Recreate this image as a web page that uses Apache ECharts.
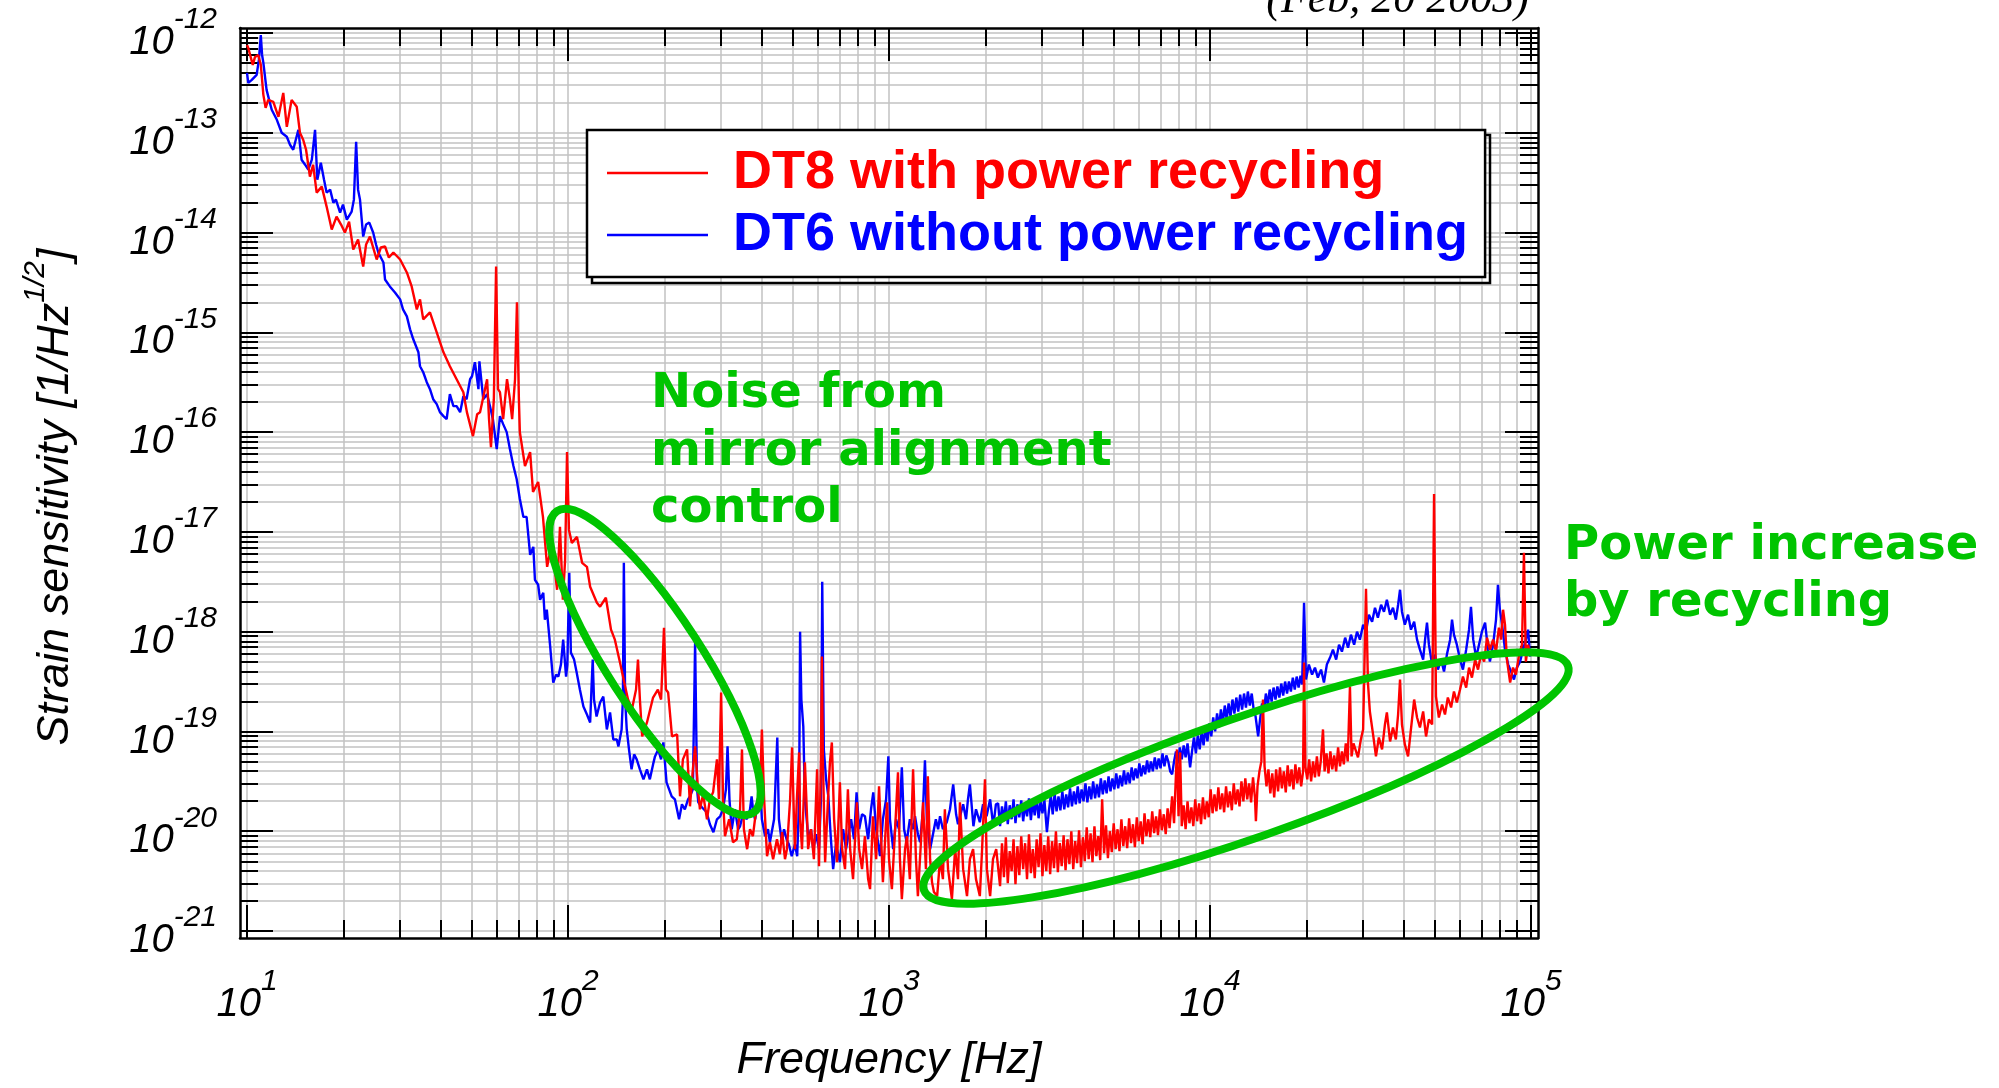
<!DOCTYPE html>
<html>
<head>
<meta charset="utf-8">
<script src="https://cdn.jsdelivr.net/npm/echarts@6/dist/echarts.min.js"></script>
<style>
  html, body { margin: 0; padding: 0; background: #fff; }
  #chart { width: 1999px; height: 1088px; }
</style>
</head>
<body>
<div id="chart"></div>
<script>
// Decades labelled on each axis (log10 of Hz and of 1/sqrt(Hz))
const freqDecades = [1, 2, 3, 4, 5];
const strainDecades = [-21, -20, -19, -18, -17, -16, -15, -14, -13, -12];

const seriesNames = ['DT8 with power recycling', 'DT6 without power recycling'];

// Spectra as [log10 f (Hz), log10 h (1/sqrt(Hz))]
// DT8 with power recycling
const dt8Below100Hz = [
  [1.000,-12.12],[1.004,-12.15],[1.018,-12.32],[1.025,-12.24],[1.035,-12.22],[1.043,-12.32],[1.051,-12.62],[1.058,-12.75],
  [1.066,-12.67],[1.082,-12.69],[1.098,-12.84],[1.113,-12.60],[1.124,-12.94],[1.139,-12.67],[1.155,-12.74],[1.165,-13.00],
  [1.175,-13.07],[1.184,-13.17],[1.196,-13.44],[1.206,-13.32],[1.217,-13.60],[1.233,-13.54],[1.248,-13.74],[1.264,-13.97],
  [1.279,-13.84],[1.293,-13.92],[1.305,-14.00],[1.318,-13.89],[1.331,-14.17],[1.346,-14.07],[1.362,-14.34],[1.371,-14.12],
  [1.383,-14.04],[1.404,-14.27],[1.417,-14.15],[1.430,-14.14],[1.442,-14.25],[1.456,-14.20],[1.477,-14.27],[1.498,-14.40],
  [1.513,-14.54],[1.529,-14.77],[1.539,-14.67],[1.549,-14.87],[1.570,-14.80],[1.591,-15.00],[1.612,-15.20],[1.632,-15.34],
  [1.653,-15.47],[1.674,-15.60],[1.685,-15.80],[1.704,-16.04],[1.717,-15.82],[1.726,-15.80],[1.738,-15.62],[1.748,-15.47],
  [1.754,-15.87],[1.760,-16.15],[1.769,-15.67],[1.776,-14.34],[1.782,-15.57],[1.788,-15.60],[1.798,-15.87],[1.810,-15.47],
  [1.819,-15.67],[1.826,-15.87],[1.835,-15.47],[1.841,-14.70],[1.847,-15.67],[1.850,-16.00],[1.866,-16.34],[1.882,-16.20],
  [1.891,-16.60],[1.907,-16.50],[1.922,-16.85],[1.935,-17.35],[1.950,-17.11],[1.966,-17.58],[1.975,-16.95],[1.984,-17.68],
  [1.991,-17.28],[1.997,-16.20]
];
const dt8To1kHz = [
  [2.003,-16.98],[2.012,-17.11],[2.028,-17.05],[2.044,-17.31],[2.059,-17.35],[2.069,-17.55],[2.090,-17.71],[2.100,-17.75],
  [2.118,-17.66],[2.134,-17.98],[2.146,-18.08],[2.162,-18.31],[2.178,-18.55],[2.187,-18.68],[2.199,-18.78],[2.212,-18.58],
  [2.218,-18.28],[2.224,-18.68],[2.231,-19.05],[2.246,-18.91],[2.265,-18.66],[2.280,-18.58],[2.290,-18.68],[2.299,-17.96],
  [2.305,-18.58],[2.312,-18.61],[2.324,-19.05],[2.340,-19.03],[2.349,-19.65],[2.358,-19.28],[2.371,-19.18],[2.380,-19.75],
  [2.389,-19.38],[2.396,-19.15],[2.405,-19.58],[2.411,-19.78],[2.421,-19.63],[2.433,-19.88],[2.442,-19.68],[2.452,-19.61],
  [2.464,-19.28],[2.470,-19.68],[2.477,-18.61],[2.483,-19.68],[2.489,-20.05],[2.502,-19.88],[2.514,-20.11],[2.526,-20.08],
  [2.536,-19.78],[2.542,-19.18],[2.548,-19.98],[2.558,-20.18],[2.567,-19.98],[2.576,-20.05],[2.589,-19.71],[2.598,-19.58],
  [2.604,-18.98],[2.611,-19.68],[2.620,-20.25],[2.629,-20.11],[2.639,-20.28],[2.651,-20.08],[2.660,-20.23],[2.667,-20.01],
  [2.676,-20.28],[2.682,-20.18],[2.692,-19.68],[2.698,-19.16],[2.704,-19.88],[2.707,-20.18],[2.713,-19.68],[2.720,-19.21],
  [2.723,-19.88],[2.729,-20.18],[2.738,-19.31],[2.745,-19.88],[2.748,-20.18],[2.757,-19.98],[2.766,-20.28],[2.776,-19.38],
  [2.782,-20.35],[2.788,-19.28],[2.791,-18.25],[2.794,-19.28],[2.801,-20.31],[2.810,-19.68],[2.816,-19.31],[2.822,-19.11],
  [2.829,-19.88],[2.838,-20.31],[2.847,-19.51],[2.854,-20.18],[2.863,-20.38],[2.872,-19.58],[2.879,-20.18],[2.888,-20.48],
  [2.900,-19.71],[2.907,-20.18],[2.916,-20.38],[2.925,-20.05],[2.935,-20.48],[2.941,-20.58],[2.950,-19.85],[2.960,-20.28],
  [2.969,-19.55],[2.981,-20.51],[2.994,-19.71]
];
const dt8Above1kHz = [
  [3.000,-20.28],[3.009,-20.58],[3.019,-19.98],[3.028,-19.41],[3.034,-20.28],[3.040,-20.68],[3.050,-20.18],[3.056,-20.05],
  [3.065,-20.48],[3.075,-19.38],[3.084,-20.28],[3.090,-20.65],[3.100,-20.08],[3.106,-19.71],[3.115,-20.38],[3.121,-19.45],
  [3.128,-20.28],[3.134,-20.51],[3.140,-20.61],[3.150,-20.65],[3.159,-20.28],[3.168,-20.48],[3.174,-19.78],[3.184,-20.38],
  [3.196,-20.68],[3.206,-20.18],[3.215,-20.48],[3.221,-19.71],[3.231,-20.38],[3.243,-20.65],[3.252,-20.28],[3.262,-20.18],
  [3.271,-20.48],[3.283,-20.65],[3.290,-20.18],[3.299,-19.48],[3.305,-20.38],[3.315,-20.65],[3.324,-20.28],[3.334,-20.18],
  [3.340,-20.20],[3.346,-20.55],[3.352,-20.12],[3.358,-20.46],[3.364,-20.06],[3.370,-20.52],[3.376,-20.20],[3.382,-20.40],
  [3.388,-20.08],[3.394,-20.53],[3.400,-20.15],[3.406,-20.44],[3.412,-20.05],[3.418,-20.38],[3.424,-20.12],[3.430,-20.48],
  [3.436,-20.03],[3.442,-20.42],[3.448,-20.18],[3.454,-20.47],[3.460,-20.08],[3.466,-20.36],[3.472,-20.02],[3.478,-20.45],
  [3.484,-20.14],[3.490,-20.40],[3.496,-20.05],[3.502,-20.43],[3.508,-20.10],[3.514,-20.37],[3.520,-20.00],[3.526,-20.41],
  [3.532,-20.12],[3.538,-20.35],[3.544,-20.04],[3.550,-20.39],[3.556,-20.08],[3.562,-20.33],[3.568,-20.00],[3.574,-20.38],
  [3.580,-20.10],[3.586,-20.32],[3.592,-19.99],[3.598,-20.36],[3.604,-20.06],[3.610,-20.30],[3.616,-19.96],[3.622,-20.28],
  [3.628,-20.02],[3.634,-20.31],[3.640,-19.95],[3.646,-20.25],[3.652,-20.05],[3.658,-20.29],[3.664,-19.68],[3.670,-20.22],
  [3.676,-19.94],[3.682,-20.27],[3.688,-20.00],[3.694,-20.21],[3.700,-19.92],[3.706,-20.18],[3.712,-19.98],[3.718,-20.20],
  [3.724,-19.88],[3.730,-20.15],[3.736,-19.95],[3.742,-20.17],[3.748,-19.87],[3.754,-20.12],[3.760,-19.93],[3.766,-20.16],
  [3.772,-19.86],[3.778,-20.10],[3.784,-19.90],[3.790,-20.13],[3.796,-19.82],[3.802,-20.05],[3.808,-19.88],[3.814,-20.06],
  [3.820,-19.80],[3.826,-20.02],[3.832,-19.85],[3.838,-20.04],[3.844,-19.78],[3.850,-19.99],[3.856,-19.83],[3.862,-20.03],
  [3.868,-19.77],[3.874,-19.97],[3.882,-19.65],[3.888,-19.92],[3.897,-19.18],[3.902,-19.85],[3.907,-19.21],[3.912,-19.95],
  [3.918,-19.74],[3.924,-19.98],[3.930,-19.70],[3.936,-19.92],[3.942,-19.76],[3.948,-19.95],[3.954,-19.68],[3.960,-19.90],
  [3.966,-19.72],[3.972,-19.93],[3.978,-19.66],[3.984,-19.88],[3.990,-19.70],[3.996,-19.86],[4.002,-19.58],[4.008,-19.82],
  [4.014,-19.63],[4.020,-19.80],[4.026,-19.56],[4.032,-19.78],[4.038,-19.62],[4.044,-19.81],[4.050,-19.55],[4.056,-19.76],
  [4.062,-19.60],[4.068,-19.79],[4.074,-19.52],[4.080,-19.73],[4.086,-19.58],[4.092,-19.75],[4.098,-19.50],[4.104,-19.70],
  [4.110,-19.47],[4.116,-19.68],[4.122,-19.52],[4.128,-19.71],[4.134,-19.46],[4.140,-19.66],[4.143,-19.90],[4.148,-19.55],
  [4.154,-19.40],[4.160,-19.30],[4.165,-18.68],[4.170,-19.35],[4.176,-19.55],[4.182,-19.38],[4.188,-19.62],[4.194,-19.42],
  [4.200,-19.66],[4.206,-19.38],[4.212,-19.60],[4.218,-19.36],[4.224,-19.57],[4.230,-19.40],[4.236,-19.61],[4.242,-19.34],
  [4.248,-19.55],[4.254,-19.38],[4.260,-19.58],[4.266,-19.33],[4.272,-19.52],[4.278,-19.36],[4.284,-19.55],[4.290,-19.40],
  [4.293,-18.31],[4.297,-19.35],[4.303,-19.48],[4.309,-19.28],[4.315,-19.50],[4.321,-19.30],[4.327,-19.46],[4.333,-19.25],
  [4.339,-19.45],[4.345,-19.30],[4.352,-18.98],[4.357,-19.40],[4.363,-19.22],[4.369,-19.42],[4.375,-19.20],[4.381,-19.38],
  [4.387,-19.24],[4.393,-19.40],[4.399,-19.16],[4.405,-19.35],[4.411,-19.20],[4.417,-19.33],[4.423,-19.12],[4.429,-19.30],
  [4.436,-18.55],[4.441,-19.25],[4.447,-19.12],[4.452,-19.13],[4.461,-19.26],[4.470,-19.08],[4.477,-18.98],
  [4.486,-17.57],[4.492,-18.51],[4.498,-18.80],[4.508,-19.03],[4.517,-19.25],[4.526,-19.06],[4.536,-19.18],[4.545,-18.93],
  [4.551,-18.81],[4.561,-19.10],[4.570,-18.96],[4.579,-19.08],[4.586,-18.83],[4.592,-18.48],[4.598,-18.93],[4.607,-19.13],
  [4.617,-19.25],[4.626,-18.98],[4.636,-18.68],[4.645,-18.86],[4.654,-18.96],[4.664,-18.80],[4.673,-19.05],[4.682,-18.88],
  [4.692,-18.93],[4.698,-16.62],[4.704,-18.65],[4.713,-18.86],[4.723,-18.73],[4.732,-18.83],[4.741,-18.66],[4.751,-18.76],
  [4.760,-18.60],[4.769,-18.71],[4.779,-18.58],[4.788,-18.45],[4.798,-18.56],[4.807,-18.36],[4.816,-18.46],[4.826,-18.28],
  [4.835,-18.38],[4.844,-18.23],[4.854,-18.30],[4.863,-18.06],[4.872,-18.18],[4.882,-18.08],[4.891,-18.20],[4.900,-17.96],
  [4.907,-18.08],[4.913,-17.78],[4.919,-17.93],[4.925,-18.28],[4.935,-18.51],[4.944,-18.36],[4.953,-18.43],[4.963,-18.23],
  [4.972,-18.13],[4.978,-17.21],[4.984,-18.30],[4.991,-18.13],[4.997,-18.23]
];

// DT6 without power recycling
const dt6Below100Hz = [
  [1.000,-12.40],[1.004,-12.50],[1.015,-12.47],[1.030,-12.42],[1.037,-12.27],[1.043,-12.02],[1.047,-12.22],[1.051,-12.30],
  [1.061,-12.57],[1.069,-12.67],[1.077,-12.77],[1.093,-12.87],[1.108,-13.00],[1.124,-13.04],[1.134,-13.12],[1.144,-13.17],
  [1.160,-12.97],[1.170,-13.27],[1.181,-13.32],[1.191,-13.37],[1.202,-13.27],[1.212,-12.97],[1.219,-13.47],[1.230,-13.30],
  [1.240,-13.47],[1.248,-13.60],[1.259,-13.57],[1.269,-13.70],[1.277,-13.67],[1.290,-13.80],[1.299,-13.72],[1.311,-13.87],
  [1.326,-13.79],[1.333,-13.67],[1.340,-13.09],[1.346,-13.57],[1.352,-13.67],[1.362,-14.04],[1.371,-13.92],[1.381,-13.90],
  [1.393,-14.00],[1.402,-14.12],[1.409,-14.20],[1.425,-14.30],[1.430,-14.47],[1.445,-14.54],[1.461,-14.60],[1.477,-14.67],
  [1.486,-14.77],[1.498,-14.84],[1.508,-14.97],[1.518,-15.07],[1.534,-15.20],[1.539,-15.34],[1.549,-15.40],[1.560,-15.50],
  [1.570,-15.57],[1.580,-15.67],[1.591,-15.72],[1.601,-15.80],[1.612,-15.84],[1.622,-15.87],[1.632,-15.62],[1.643,-15.74],
  [1.653,-15.74],[1.664,-15.80],[1.674,-15.64],[1.684,-15.67],[1.695,-15.47],[1.701,-15.44],[1.710,-15.30],[1.721,-15.57],
  [1.724,-15.29],[1.736,-15.67],[1.748,-15.62],[1.757,-15.74],[1.766,-15.87],[1.778,-16.17],[1.788,-15.84],[1.798,-15.92],
  [1.809,-16.00],[1.819,-16.17],[1.830,-16.34],[1.840,-16.47],[1.850,-16.67],[1.861,-16.85],[1.871,-16.85],[1.882,-17.23],
  [1.892,-17.15],[1.897,-17.48],[1.907,-17.53],[1.913,-17.68],[1.923,-17.61],[1.928,-17.88],[1.934,-17.78],[1.944,-18.13],
  [1.954,-18.51],[1.963,-18.43],[1.970,-18.45],[1.978,-18.33],[1.985,-18.08],[1.994,-18.45],[1.998,-18.33]
];
const dt6To1kHz = [
  [2.004,-17.41],[2.009,-18.21],[2.019,-18.28],[2.027,-18.41],[2.037,-18.58],[2.048,-18.75],[2.059,-18.83],[2.069,-18.91],
  [2.073,-18.58],[2.077,-18.28],[2.081,-18.68],[2.089,-18.85],[2.100,-18.71],[2.110,-18.65],[2.121,-18.98],[2.131,-18.81],
  [2.141,-19.08],[2.152,-19.08],[2.157,-19.15],[2.167,-18.98],[2.171,-18.68],[2.174,-17.31],[2.178,-18.68],[2.183,-18.98],
  [2.190,-19.18],[2.198,-19.38],[2.206,-19.23],[2.214,-19.28],[2.224,-19.38],[2.235,-19.48],[2.246,-19.38],[2.255,-19.48],
  [2.265,-19.33],[2.271,-19.25],[2.281,-19.18],[2.290,-19.28],[2.297,-19.11],[2.307,-19.51],[2.315,-19.58],[2.323,-19.65],
  [2.333,-19.68],[2.346,-19.88],[2.355,-19.73],[2.364,-19.78],[2.374,-19.68],[2.380,-19.65],[2.389,-19.58],[2.396,-18.10],
  [2.402,-19.58],[2.406,-19.71],[2.417,-19.76],[2.432,-19.81],[2.442,-19.93],[2.453,-20.01],[2.464,-19.88],[2.474,-19.85],
  [2.483,-19.78],[2.492,-19.58],[2.497,-19.15],[2.503,-19.68],[2.510,-19.98],[2.520,-19.78],[2.530,-19.98],[2.536,-19.95],
  [2.545,-19.83],[2.557,-19.88],[2.567,-19.78],[2.572,-19.65],[2.578,-19.83],[2.583,-19.88],[2.592,-19.68],[2.598,-19.51],
  [2.604,-19.88],[2.614,-20.05],[2.623,-19.98],[2.629,-20.11],[2.642,-19.88],[2.652,-19.06],[2.657,-19.88],[2.666,-20.11],
  [2.673,-19.98],[2.681,-20.08],[2.688,-20.13],[2.697,-20.25],[2.707,-20.13],[2.714,-20.25],[2.720,-19.68],[2.723,-18.00],
  [2.727,-18.68],[2.733,-18.95],[2.738,-19.68],[2.749,-20.08],[2.757,-19.98],[2.764,-20.18],[2.773,-20.03],[2.782,-20.18],
  [2.788,-19.68],[2.792,-17.50],[2.797,-19.18],[2.804,-19.48],[2.811,-19.65],[2.819,-20.08],[2.826,-20.38],[2.835,-20.13],
  [2.847,-20.31],[2.857,-19.98],[2.866,-20.18],[2.873,-20.05],[2.882,-19.88],[2.891,-20.08],[2.899,-19.61],[2.907,-19.98],
  [2.916,-19.83],[2.925,-19.85],[2.935,-20.08],[2.944,-19.78],[2.951,-19.61],[2.960,-19.98],[2.972,-20.25],[2.981,-19.88],
  [2.991,-19.68],[2.998,-19.25]
];
const dt6Above1kHz = [
  [3.003,-19.88],[3.013,-20.18],[3.022,-19.88],[3.031,-19.98],[3.040,-19.36],[3.047,-19.98],[3.055,-20.11],[3.065,-19.88],
  [3.075,-19.98],[3.081,-19.85],[3.090,-20.03],[3.097,-20.11],[3.106,-19.78],[3.112,-19.29],[3.118,-19.88],[3.128,-20.18],
  [3.137,-20.03],[3.146,-19.88],[3.153,-19.98],[3.159,-19.85],[3.168,-19.98],[3.180,-19.91],[3.190,-19.78],[3.200,-19.53],
  [3.209,-19.83],[3.215,-19.93],[3.221,-19.91],[3.231,-19.73],[3.240,-19.88],[3.246,-19.68],[3.252,-19.53],[3.263,-19.95],
  [3.271,-19.78],[3.283,-19.91],[3.293,-19.73],[3.304,-19.85],[3.315,-19.68],[3.325,-19.95],[3.333,-19.73],
  [3.340,-19.72],[3.346,-19.95],[3.352,-19.75],[3.358,-19.90],[3.364,-19.70],[3.370,-19.93],[3.376,-19.74],[3.382,-19.88],
  [3.388,-19.68],[3.394,-19.92],[3.400,-19.73],[3.406,-19.86],[3.412,-19.69],[3.418,-19.90],[3.424,-19.72],[3.430,-19.85],
  [3.436,-19.67],[3.442,-19.89],[3.448,-19.70],[3.454,-19.84],[3.460,-19.66],[3.466,-19.87],[3.472,-19.70],[3.478,-19.82],
  [3.484,-19.68],[3.492,-20.01],[3.498,-19.80],[3.504,-19.64],[3.510,-19.83],[3.516,-19.62],[3.522,-19.80],[3.528,-19.65],
  [3.534,-19.79],[3.540,-19.60],[3.546,-19.78],[3.552,-19.63],[3.558,-19.76],[3.564,-19.57],[3.570,-19.75],[3.576,-19.60],
  [3.582,-19.73],[3.588,-19.55],[3.594,-19.72],[3.600,-19.58],[3.606,-19.70],[3.612,-19.52],[3.618,-19.71],[3.624,-19.55],
  [3.630,-19.68],[3.636,-19.50],[3.642,-19.67],[3.648,-19.53],[3.654,-19.66],[3.660,-19.47],[3.666,-19.63],[3.672,-19.49],
  [3.678,-19.62],[3.684,-19.45],[3.690,-19.60],[3.696,-19.47],[3.702,-19.58],[3.708,-19.42],[3.714,-19.57],[3.720,-19.44],
  [3.726,-19.55],[3.732,-19.39],[3.738,-19.53],[3.744,-19.41],[3.750,-19.52],[3.756,-19.36],[3.762,-19.49],[3.768,-19.37],
  [3.774,-19.47],[3.780,-19.32],[3.786,-19.45],[3.792,-19.34],[3.798,-19.43],[3.804,-19.29],[3.810,-19.41],[3.816,-19.30],
  [3.822,-19.40],[3.828,-19.26],[3.834,-19.38],[3.840,-19.27],[3.846,-19.37],[3.852,-19.22],[3.858,-19.35],[3.864,-19.24],
  [3.870,-19.30],[3.876,-19.40],[3.882,-19.43],[3.888,-19.30],[3.894,-19.20],[3.900,-19.32],[3.906,-19.16],[3.912,-19.28],
  [3.918,-19.14],[3.924,-19.26],[3.930,-19.12],[3.938,-19.36],[3.944,-19.20],[3.950,-19.06],[3.956,-19.22],[3.962,-19.04],
  [3.968,-19.18],[3.974,-19.00],[3.980,-19.14],[3.986,-18.96],[3.992,-19.10],[3.998,-18.92],[4.004,-19.05],[4.010,-18.86],
  [4.016,-19.00],[4.022,-18.82],[4.028,-18.96],[4.034,-18.78],[4.040,-18.92],[4.046,-18.74],[4.052,-18.88],[4.058,-18.72],
  [4.064,-18.85],[4.070,-18.68],[4.076,-18.82],[4.082,-18.66],[4.088,-18.80],[4.094,-18.63],[4.100,-18.78],[4.106,-18.62],
  [4.112,-18.76],[4.118,-18.60],[4.124,-18.74],[4.130,-18.62],[4.136,-18.78],[4.142,-18.85],[4.150,-19.05],[4.156,-18.88],
  [4.162,-18.72],[4.168,-18.80],[4.174,-18.62],[4.180,-18.74],[4.186,-18.58],[4.192,-18.70],[4.198,-18.56],[4.204,-18.68],
  [4.210,-18.55],[4.216,-18.66],[4.222,-18.52],[4.228,-18.64],[4.234,-18.50],[4.240,-18.62],[4.246,-18.50],[4.252,-18.60],
  [4.258,-18.46],[4.264,-18.58],[4.270,-18.45],[4.276,-18.56],[4.282,-18.44],[4.287,-18.53],
  [4.293,-17.71],[4.299,-18.48],[4.308,-18.33],[4.318,-18.43],[4.327,-18.36],[4.336,-18.46],[4.346,-18.38],[4.355,-18.51],
  [4.364,-18.33],[4.374,-18.26],[4.383,-18.18],[4.393,-18.28],[4.402,-18.13],[4.411,-18.20],[4.421,-18.06],[4.430,-18.16],
  [4.439,-18.03],[4.449,-18.13],[4.458,-18.00],[4.467,-18.08],[4.477,-17.93],[4.486,-18.00],[4.495,-17.83],[4.505,-17.90],
  [4.514,-17.76],[4.523,-17.86],[4.533,-17.73],[4.542,-17.80],[4.551,-17.68],[4.561,-17.83],[4.570,-17.76],[4.579,-17.88],
  [4.586,-17.73],[4.592,-17.58],[4.598,-17.80],[4.607,-17.93],[4.617,-17.83],[4.626,-17.98],[4.636,-17.90],[4.645,-18.08],
  [4.654,-18.18],[4.664,-18.28],[4.670,-18.08],[4.676,-17.91],[4.682,-18.13],[4.692,-18.33],[4.701,-18.23],[4.710,-18.38],
  [4.720,-18.28],[4.729,-18.40],[4.738,-18.23],[4.748,-18.08],[4.754,-17.88],[4.760,-18.03],[4.769,-18.13],[4.779,-18.28],
  [4.788,-18.38],[4.798,-18.18],[4.807,-17.98],[4.813,-17.75],[4.820,-18.08],[4.829,-18.26],[4.838,-18.13],[4.847,-18.00],
  [4.857,-17.91],[4.866,-18.18],[4.872,-18.30],[4.882,-18.13],[4.891,-17.88],[4.897,-17.53],[4.903,-17.78],[4.910,-17.93],
  [4.919,-18.18],[4.929,-18.33],[4.938,-18.40],[4.947,-18.48],[4.956,-18.36],[4.966,-18.30],[4.975,-18.18],[4.984,-18.08],
  [4.991,-17.98],[4.997,-18.25]
];

const dt8Data = dt8Below100Hz.concat(dt8To1kHz, dt8Above1kHz);
const dt6Data = dt6Below100Hz.concat(dt6To1kHz, dt6Above1kHz);

// ---- styling ----
const FONT = '"Liberation Sans", Arial, sans-serif';
const GREEN = '#00c400';
const GRID_GREY = '#c2c2c2';

// axis extents leave a small margin outside the first/last decade
const X_MIN = 1 - 7 / 321, X_MAX = 5 + 7 / 321;
const Y_MIN = -21 - 7 / 99.9, Y_MAX = -12 + 5 / 99.9;

// tick positions at 1..9 x 10^n within each decade span
function withSubdivisions(decades) {
  const out = [];
  for (let i = 0; i < decades.length; i++) {
    out.push(decades[i]);
    if (i < decades.length - 1) {
      for (let k = 2; k <= 9; k++) out.push(decades[i] + Math.log10(k));
    }
  }
  return out;
}
const freqTicks = withSubdivisions(freqDecades);
const strainTicks = withSubdivisions(strainDecades);

const powerRich = {
  b: { fontSize: 40, lineHeight: 40, fontStyle: 'italic', fontFamily: FONT, color: '#000', verticalAlign: 'bottom' },
  s: { fontSize: 30, lineHeight: 30, fontStyle: 'italic', fontFamily: FONT, color: '#000', verticalAlign: 'bottom', padding: [0, 0, 28, 0] }
};
const powerLabel = v => '{b|10}{s|' + Math.round(v) + '}';

function frameAxis(kind, position, major, withLabels) {
  const ax = {
    type: 'value', position: position, min: kind === 'x' ? X_MIN : Y_MIN, max: kind === 'x' ? X_MAX : Y_MAX,
    axisLine: { show: major, onZero: false, lineStyle: { color: '#000', width: 2.5 } },
    axisTick: {
      show: true, inside: true, length: major ? 33 : 18,
      customValues: major ? (kind === 'x' ? freqDecades : strainDecades) : (kind === 'x' ? freqTicks : strainTicks),
      lineStyle: { color: '#000', width: 2 }
    },
    axisLabel: { show: false },
    splitLine: { show: !major && (position === 'bottom' || position === 'left'), lineStyle: { color: GRID_GREY, width: 1.5 } },
    minorTick: { show: false }, minorSplitLine: { show: false }
  };
  if (withLabels) {
    ax.axisLabel = kind === 'x'
      ? { show: true, customValues: freqDecades, margin: 47, formatter: powerLabel, rich: powerRich }
      : { show: true, customValues: strainDecades, margin: 23, padding: [20, 0, 0, 0], formatter: powerLabel, rich: powerRich };
  }
  return ax;
}

const xAxes = [
  frameAxis('x', 'bottom', true, true),
  frameAxis('x', 'bottom', false, false),
  frameAxis('x', 'top', true, false),
  frameAxis('x', 'top', false, false)
];
xAxes[0].name = 'Frequency [Hz]';
xAxes[0].nameLocation = 'middle';
xAxes[0].nameGap = 100;
xAxes[0].nameTextStyle = { fontSize: 45, lineHeight: 45, fontStyle: 'italic', fontFamily: FONT, color: '#000' };

const yAxes = [
  frameAxis('y', 'left', true, true),
  frameAxis('y', 'left', false, false),
  frameAxis('y', 'right', true, false),
  frameAxis('y', 'right', false, false)
];
yAxes[0].name = '{n|Strain sensitivity [1/Hz}{u|1/2}{n|]}';
yAxes[0].nameLocation = 'middle';
yAxes[0].nameGap = 162;
yAxes[0].nameTextStyle = {
  padding: [0, 28, 0, 0],
  rich: {
    n: { fontSize: 45, lineHeight: 45, fontStyle: 'italic', fontFamily: FONT, color: '#000', verticalAlign: 'bottom' },
    u: { fontSize: 30, lineHeight: 30, fontStyle: 'italic', fontFamily: FONT, color: '#000', verticalAlign: 'bottom', padding: [0, 0, 27, 0] }
  }
};

const chart = echarts.init(document.getElementById('chart'), null, { renderer: 'canvas' });
chart.setOption({
  animation: false,
  backgroundColor: '#fff',
  title: {
    text: '(Feb, 20 2003)', right: 470, top: -22, padding: 0,
    textStyle: { fontFamily: '"Liberation Serif", "Times New Roman", serif', fontStyle: 'italic', fontWeight: 'normal', fontSize: 44, color: '#000' }
  },
  grid: { left: 240, top: 28, width: 1298, height: 911, containLabel: false },
  xAxis: xAxes,
  yAxis: yAxes,
  legend: {
    left: 587, top: 130, orient: 'vertical', selectedMode: false, z: 6,
    icon: 'rect', padding: [16, 17, 15, 20], itemGap: 8, itemWidth: 101, itemHeight: 2.5,
    backgroundColor: '#fff', borderColor: '#000', borderWidth: 2.5,
    textStyle: { fontSize: 54, lineHeight: 54, fontWeight: 'bold', fontFamily: FONT, padding: [0, 0, 0, 20] },
    data: [
      { name: seriesNames[0], textStyle: { color: '#ff0000' } },
      { name: seriesNames[1], textStyle: { color: '#0000ff' } }
    ]
  },
  series: [
    {
      name: seriesNames[1], type: 'line', data: dt6Data, xAxisIndex: 0, yAxisIndex: 0,
      symbol: 'none', color: '#0000ff', lineStyle: { color: '#0000ff', width: 2.4 }, z: 2
    },
    {
      name: seriesNames[0], type: 'line', data: dt8Data, xAxisIndex: 0, yAxisIndex: 0,
      symbol: 'none', color: '#ff0000', lineStyle: { color: '#ff0000', width: 2.4 }, z: 3
    }
  ],
  graphic: [
    // offset outline behind the legend box
    { type: 'rect', z: 5, shape: { x: 592, y: 135, width: 898, height: 148 }, style: { fill: 'none', stroke: '#000', lineWidth: 2.5 } },
    // annotations
    { type: 'ellipse', z: 50, x: 655, y: 662, rotation: -57 * Math.PI / 180,
      shape: { cx: 0, cy: 0, rx: 180, ry: 47 }, style: { fill: 'none', stroke: GREEN, lineWidth: 8 } },
    { type: 'ellipse', z: 50, x: 1246, y: 778, rotation: 19.2 * Math.PI / 180,
      shape: { cx: 0, cy: 0, rx: 341, ry: 60 }, style: { fill: 'none', stroke: GREEN, lineWidth: 8 } },
    { type: 'text', z: 50, x: 651, y: 366,
      style: { text: 'Noise from\nmirror alignment\ncontrol', fontFamily: '"DejaVu Sans", Verdana, sans-serif', fontWeight: 'bold',
               fontSize: 48, lineHeight: 57.5, fill: GREEN, verticalAlign: 'top', align: 'left' } },
    { type: 'text', z: 50, x: 1564, y: 518,
      style: { text: 'Power increase\nby recycling', fontFamily: '"DejaVu Sans", Verdana, sans-serif', fontWeight: 'bold',
               fontSize: 48, lineHeight: 57, fill: GREEN, verticalAlign: 'top', align: 'left' } }
  ]
});
</script>
</body>
</html>
